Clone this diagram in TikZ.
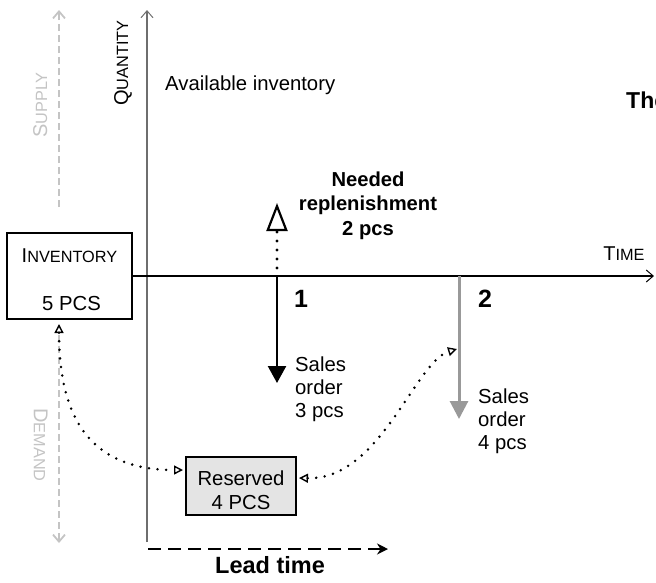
\documentclass[tikz,border=0pt]{standalone}
\usepackage{fontspec}
\setmainfont{Liberation Sans}
\usetikzlibrary{arrows.meta}

\definecolor{guidegray}{RGB}{196,196,196}
\definecolor{axisgray}{RGB}{110,110,110}
\definecolor{ordergray}{RGB}{153,153,153}
\definecolor{resfill}{RGB}{228,228,228}

% fake small caps: full-size initial, smaller capitals after it
\newcommand{\capsA}[2]{{\fontsize{20}{20}\selectfont #1}{\fontsize{16.3}{16.3}\selectfont #2}}

\begin{document}
\begin{tikzpicture}[x=1pt,y=-1pt,
  txt/.style={inner sep=0pt, font=\fontsize{20.3}{23}\selectfont},
  btxt/.style={inner sep=0pt, font=\bfseries\fontsize{20.2}{24.5}\selectfont},
  axis/.style={line width=1.1pt, -{Straight Barb[length=7pt,width=12pt,line width=1pt]}},
  guide/.style={draw=guidegray, line width=2.3pt, dash pattern=on 7pt off 4pt,
                -{Straight Barb[length=7pt,width=12pt,line width=1.8pt]}},
  dots/.style={line width=2.8pt, line cap=round, dash pattern=on 0pt off 8.6pt},
  linkends/.style={{Triangle[open,length=9pt,width=9pt,line width=1.4pt]}-{Triangle[open,length=9pt,width=9pt,line width=1.4pt]}},
  box/.style={draw, inner sep=0pt}
]
\useasboundingbox (0,0) rectangle (656,582);

% supply / demand guides
\coordinate (sup0) at (59,207);
\coordinate (sup1) at (59,10);
\coordinate (dem0) at (59,335);
\coordinate (dem1) at (59,543);
\draw[guide] (sup0) -- (sup1);
\draw[guide] (dem0) -- (dem1);
\node[txt, text=guidegray, rotate=90, anchor=base] (suplbl) at (47,105) {\capsA{S}{UPPLY}};
\node[txt, text=guidegray, rotate=-90, anchor=base] (demlbl) at (34,445) {\capsA{D}{EMAND}};

% inventory box
\node[box, line width=1.2pt, minimum width=125pt, minimum height=86pt] (inv) at (69.5,276) {};
\node[txt, anchor=base] (invlbl) at (69.5,262) {\capsA{I}{NVENTORY}};
\node[txt, anchor=base] (invqty) at (71.5,310) {5 PCS};

% axes
\coordinate (yb) at (147,542);
\coordinate (yt) at (147,10);
\coordinate (xt) at (654,276);
\draw[axis, axisgray] (yb) -- (yt);
\draw[axis] (inv.east) -- (xt);
\node[txt, rotate=90, anchor=base] (qlbl) at (128,63) {\capsA{Q}{UANTITY}};
\node[txt, anchor=base] (tlbl) at (624,260) {\capsA{T}{IME}};
\node[txt, anchor=base west] (avail) at (165,90) {Available inventory};
\node[inner sep=0pt, font=\bfseries\fontsize{23}{23}\selectfont, anchor=base west] (thelbl) at (626,108) {The};

% event 1
\coordinate (e1) at (277,276);
\coordinate (e1b) at (277,383);
\coordinate (e1d) at (277,268);
\coordinate (e1u) at (277,203);
\draw[line width=2.4pt, -{Triangle[length=17pt,width=18pt]}] (e1) -- (e1b);
\draw[line width=3.2pt, line cap=round, dash pattern=on 0pt off 9pt,
      -{Triangle[open,length=28pt,width=21pt,line width=2.2pt]}] (e1d) -- (e1u);
\node[inner sep=0pt, font=\bfseries\fontsize{25}{25}\selectfont, anchor=base] (n1) at (301,307) {1};
\node[btxt, align=center, anchor=base] (need) at (368,235) {Needed\\replenishment\\2 pcs};
\node[txt, align=left, anchor=base west] (so1) at (295,417) {Sales\\order\\3 pcs};

% event 2
\coordinate (e2) at (459,276);
\coordinate (e2b) at (459,419);
\draw[line width=3pt, ordergray, -{Triangle[length=18pt,width=18pt]}] (e2) -- (e2b);
\node[inner sep=0pt, font=\bfseries\fontsize{25}{25}\selectfont, anchor=base] (n2) at (485,307) {2};
\node[txt, align=left, anchor=base west] (so2) at (478,449) {Sales\\order\\4 pcs};

% reserved box
\node[box, line width=2.2pt, fill=resfill, minimum width=110pt, minimum height=58pt] (res) at (241,486) {};
\node[txt, anchor=base] (reslbl) at (241,485) {Reserved};
\node[txt, anchor=base] (resqty) at (241,509) {4 PCS};

% reservation links
\coordinate (invlink) at (59,324);
\coordinate (reslinkL) at (183,470);
\coordinate (reslinkR) at (299,478);
\coordinate (e2link) at (457,349);
\draw[dots, linkends] (invlink) .. controls (59,430) and (100,470) .. (reslinkL);
\draw[dots, linkends] (reslinkR) .. controls (380,480) and (415,362) .. (e2link);

% lead time
\coordinate (lt0) at (148,549);
\coordinate (lt1) at (388,549);
\draw[line width=2.6pt, dash pattern=on 13pt off 7pt, -{Stealth[length=11pt,width=11pt]}] (lt0) -- (lt1);
\node[inner sep=0pt, font=\bfseries\fontsize{23.5}{23.5}\selectfont, anchor=base] (ltlbl) at (270,573) {Lead time};
\end{tikzpicture}
\end{document}
